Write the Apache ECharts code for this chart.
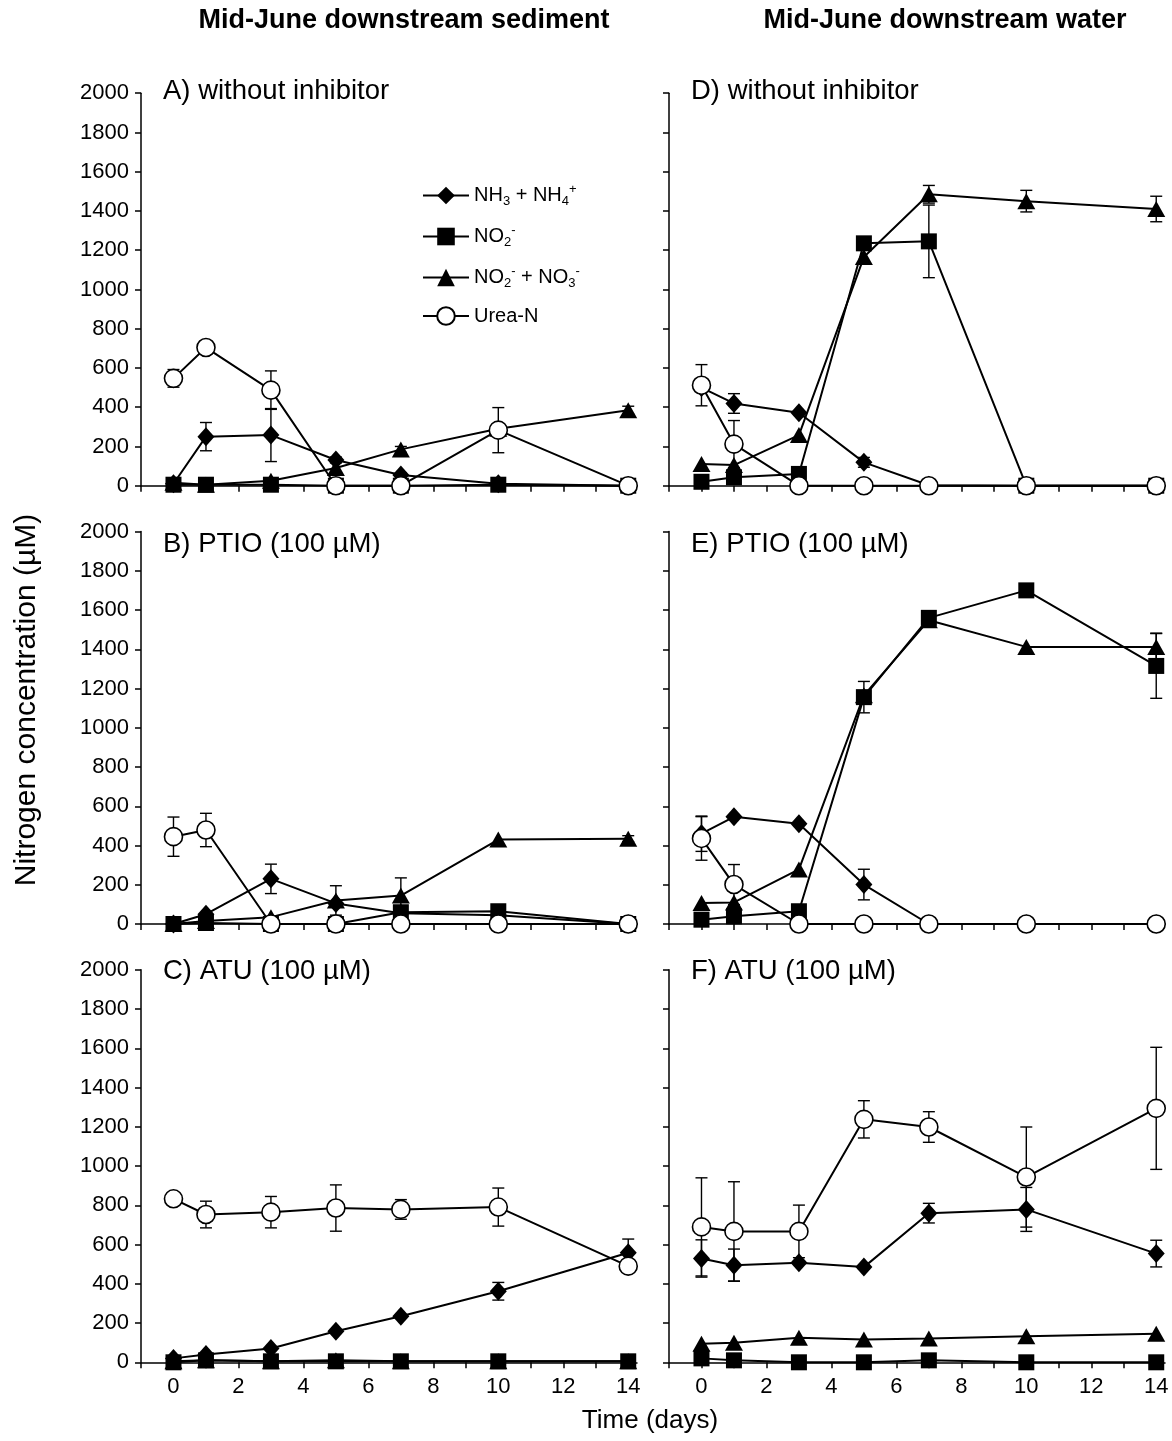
<!DOCTYPE html>
<html><head><meta charset="utf-8">
<script src="https://cdn.jsdelivr.net/npm/echarts@6/dist/echarts.min.js"></script>
<style>html,body{margin:0;padding:0;background:#fff}#c{width:1172px;height:1441px}</style>
</head><body><div id="c"></div>
<script>
// ---------- data ----------
const days = [0, 1, 3, 5, 7, 10, 14];
const xTickValues = [-1, 0, 1, 2, 3, 4, 5, 6, 7, 8, 9, 10, 11, 12, 13, 14];
const xLabelValues = [0, 2, 4, 6, 8, 10, 12, 14];
const columnTitles = ['Mid-June downstream sediment', 'Mid-June downstream water'];
const panelTitles = ['A) without inhibitor', 'B) PTIO (100 µM)', 'C) ATU (100 µM)',
                     'D) without inhibitor', 'E) PTIO (100 µM)', 'F) ATU (100 µM)'];
const yAxisName = 'Nitrogen concentration (µM)';
const xAxisName = 'Time (days)';
const seriesNames = ['nh', 'no2', 'nox', 'urea'];

// A) sediment, without inhibitor
const A_nh = [10, 250, 258, 131, 55, 10, 0];      const A_nh_err = [0, 72, 135, 15, 10, 0, 0];
const A_no2 = [5, 5, 5, 0, 0, 5, 0];              const A_no2_err = [0, 0, 0, 0, 0, 0, 0];
const A_nox = [15, 5, 25, 90, 185, 290, 385];     const A_nox_err = [0, 0, 0, 0, 15, 0, 20];
const A_urea = [547, 704, 487, 0, 0, 283, 0];     const A_urea_err = [45, 15, 98, 0, 0, 115, 0];
// B) sediment, PTIO
const B_nh = [0, 50, 230, 105, 55, 45, 0];        const B_nh_err = [0, 0, 75, 0, 0, 0, 0];
const B_no2 = [0, 5, 0, 0, 60, 65, 0];            const B_no2_err = [0, 0, 0, 0, 0, 0, 0];
const B_nox = [0, 15, 35, 120, 145, 430, 435];    const B_nox_err = [0, 0, 0, 75, 90, 0, 15];
const B_urea = [445, 479, 0, 0, 0, 0, 0];         const B_urea_err = [100, 85, 0, 0, 0, 0, 0];
// C) sediment, ATU
const C_nh = [20, 40, 70, 158, 235, 362, 558];    const C_nh_err = [0, 0, 0, 0, 0, 45, 70];
const C_no2 = [0, 10, 5, 5, 5, 5, 5];             const C_no2_err = [0, 0, 0, 0, 0, 0, 0];
const C_nox = [5, 10, 5, 10, 5, 5, 5];            const C_nox_err = [0, 0, 0, 0, 0, 0, 0];
const C_urea = [833, 753, 765, 786, 779, 791, 490]; const C_urea_err = [30, 68, 80, 118, 50, 97, 0];
// D) water, without inhibitor
const D_nh = [500, 419, 372, 119, 2, 0, 0];       const D_nh_err = [0, 50, 0, 25, 0, 0, 0];
const D_no2 = [20, 43, 60, 1235, 1245, 0, 0];     const D_no2_err = [0, 0, 0, 0, 185, 0, 0];
const D_nox = [110, 105, 258, 1165, 1485, 1450, 1410]; const D_nox_err = [0, 0, 0, 0, 45, 55, 65];
const D_urea = [512, 212, 0, 0, 0, 0, 0];         const D_urea_err = [105, 120, 0, 0, 0, 0, 0];
// E) water, PTIO
const E_nh = [460, 546, 511, 201, 0, 0, 0];       const E_nh_err = [90, 0, 0, 78, 0, 0, 0];
const E_no2 = [22, 39, 65, 1156, 1560, 1700, 1315]; const E_no2_err = [0, 0, 0, 80, 0, 0, 165];
const E_nox = [107, 110, 278, 1165, 1548, 1412, 1412]; const E_nox_err = [0, 0, 0, 0, 0, 0, 70];
const E_urea = [436, 201, 0, 0, 0, 0, 0];         const E_urea_err = [111, 102, 0, 0, 0, 0, 0];
// F) water, ATU
const F_nh = [529, 495, 507, 485, 760, 779, 554]; const F_nh_err = [95, 82, 0, 10, 50, 112, 68];
const F_no2 = [20, 10, 0, 0, 10, 0, 0];           const F_no2_err = [0, 0, 0, 0, 0, 0, 0];
const F_nox = [95, 100, 125, 116, 121, 133, 145]; const F_nox_err = [0, 0, 0, 0, 0, 0, 0];
const F_urea = [690, 667, 667, 1238, 1199, 944, 1294]; const F_urea_err = [250, 253, 134, 95, 78, 255, 311];

const panels = [
  {nh: A_nh, nhE: A_nh_err, no2: A_no2, no2E: A_no2_err, nox: A_nox, noxE: A_nox_err, urea: A_urea, ureaE: A_urea_err},
  {nh: B_nh, nhE: B_nh_err, no2: B_no2, no2E: B_no2_err, nox: B_nox, noxE: B_nox_err, urea: B_urea, ureaE: B_urea_err},
  {nh: C_nh, nhE: C_nh_err, no2: C_no2, no2E: C_no2_err, nox: C_nox, noxE: C_nox_err, urea: C_urea, ureaE: C_urea_err},
  {nh: D_nh, nhE: D_nh_err, no2: D_no2, no2E: D_no2_err, nox: D_nox, noxE: D_nox_err, urea: D_urea, ureaE: D_urea_err},
  {nh: E_nh, nhE: E_nh_err, no2: E_no2, no2E: E_no2_err, nox: E_nox, noxE: E_nox_err, urea: E_urea, ureaE: E_urea_err},
  {nh: F_nh, nhE: F_nh_err, no2: F_no2, no2E: F_no2_err, nox: F_nox, noxE: F_nox_err, urea: F_urea, ureaE: F_urea_err}
];

// ---------- layout ----------
const FONT = 'Liberation Sans, Arial, sans-serif';
const colLeft = [141, 669];
const rowTop = [93.2, 531.5, 969.8];
const gridW = 496, gridH = 392.5;
const titleY = [91, 544, 971];

const grids = [], xAxes = [], yAxes = [], series = [], graphics = [];

const symbolDefs = {
  nh:   {symbol: 'diamond', size: [17, 19], fill: '#000'},
  no2:  {symbol: 'rect', size: 16, fill: '#000'},
  nox:  {symbol: 'triangle', size: [18, 16], fill: '#000'},
  urea: {symbol: 'circle', size: 18, fill: '#fff'}
};

panels.forEach((p, i) => {
  const col = i < 3 ? 0 : 1, row = i % 3;
  grids.push({left: colLeft[col], top: rowTop[row], width: gridW, height: gridH, outerBoundsMode: 'none'});
  xAxes.push({
    type: 'value', gridIndex: i, min: -1, max: 14.27,
    axisLine: {show: true, onZero: false, lineStyle: {color: '#000', width: 1.5}},
    axisTick: {show: true, inside: false, length: 6, customValues: xTickValues, lineStyle: {color: '#000', width: 1.5}},
    axisLabel: {show: row === 2, customValues: xLabelValues, margin: 14, color: '#000', fontSize: 22, fontFamily: FONT,
                formatter: v => String(v)},
    splitLine: {show: false}
  });
  yAxes.push({
    type: 'value', gridIndex: i, min: 0, max: 2000, interval: 200,
    axisLine: {show: true, onZero: false, lineStyle: {color: '#000', width: 1.5}},
    axisTick: {show: true, inside: false, length: 6, lineStyle: {color: '#000', width: 1.5}},
    axisLabel: {show: col === 0, margin: 12, color: '#000', fontSize: 22, fontFamily: FONT,
                formatter: v => String(v)},
    splitLine: {show: false}
  });

  // error bars
  const errData = [];
  ['nox', 'nh', 'no2', 'urea'].forEach(k => {
    p[k].forEach((v, j) => {
      const e = p[k + 'E'][j];
      if (e > 0) errData.push([days[j], v - e, v + e]);
    });
  });
  series.push({
    type: 'custom', xAxisIndex: i, yAxisIndex: i, silent: true, z: 1,
    data: errData,
    renderItem: (params, api) => {
      const x = api.value(0), lo = api.value(1), hi = api.value(2);
      const a = api.coord([x, hi]), b = api.coord([x, lo]);
      const w = 6, st = {stroke: '#000', lineWidth: 1.4};
      return {type: 'group', children: [
        {type: 'line', shape: {x1: a[0], y1: a[1], x2: b[0], y2: b[1]}, style: st},
        {type: 'line', shape: {x1: a[0] - w, y1: a[1], x2: a[0] + w, y2: a[1]}, style: st},
        {type: 'line', shape: {x1: b[0] - w, y1: b[1], x2: b[0] + w, y2: b[1]}, style: st}
      ]};
    }
  });

  ['nox', 'nh', 'no2', 'urea'].forEach(k => {
    const d = symbolDefs[k];
    series.push({
      name: k, type: 'line', xAxisIndex: i, yAxisIndex: i, z: 2,
      data: p[k].map((v, j) => [days[j], v]),
      symbol: d.symbol, symbolSize: d.size, showAllSymbol: true,
      lineStyle: {color: '#000', width: 2},
      itemStyle: {color: d.fill, borderColor: '#000', borderWidth: k === 'urea' ? 1.6 : 0, opacity: 1},
      emphasis: {disabled: true},
      clip: false
    });
  });

  graphics.push({
    type: 'text', x: colLeft[col] + 22, y: titleY[row],
    style: {text: panelTitles[i], font: '27.5px ' + FONT, fill: '#000', textVerticalAlign: 'middle', textAlign: 'left'}
  });
});

graphics.push({type: 'text', x: 404, y: 21, style: {text: columnTitles[0], font: 'bold 27px ' + FONT, fill: '#000', textAlign: 'center', textVerticalAlign: 'middle'}});
graphics.push({type: 'text', x: 945, y: 21, style: {text: columnTitles[1], font: 'bold 27px ' + FONT, fill: '#000', textAlign: 'center', textVerticalAlign: 'middle'}});
graphics.push({type: 'text', x: 650, y: 1421, style: {text: xAxisName, font: '26px ' + FONT, fill: '#000', textAlign: 'center', textVerticalAlign: 'middle'}});
graphics.push({type: 'text', x: 27, y: 700, rotation: Math.PI / 2, style: {text: yAxisName, font: '30px ' + FONT, fill: '#000', textAlign: 'center', textVerticalAlign: 'middle'}});

// ---------- legend (inside panel A) ----------
const legendLabels = {
  nh: '{b|NH}{sub|3}{b| + NH}{sub|4}{sup|+}',
  no2: '{b|NO}{sub|2}{sup|-}',
  nox: '{b|NO}{sub|2}{sup|-}{b| + NO}{sub|3}{sup|-}',
  urea: '{b|Urea-N}'
};
const legendRows = [195, 236, 277, 318];
const legends = seriesNames.map((n, k) => ({
  data: [n], orient: 'vertical', left: 422, top: legendRows[k] - 12, padding: 0,
  itemWidth: 46, itemHeight: 22, selectedMode: false,
  formatter: name => legendLabels[name],
  textStyle: {
    color: '#000', fontFamily: FONT, fontSize: 20,
    rich: {
      b: {fontSize: 20, fontFamily: FONT, color: '#000'},
      sub: {fontSize: 13, fontFamily: FONT, color: '#000', padding: [12, 0, 0, 0]},
      sup: {fontSize: 13, fontFamily: FONT, color: '#000', padding: [0, 0, 12, 0]}
    }
  }
}));

const chart = echarts.init(document.getElementById('c'), null, {renderer: 'canvas'});
chart.setOption({
  animation: false,
  backgroundColor: '#fff',
  grid: grids, xAxis: xAxes, yAxis: yAxes, series: series,
  legend: legends,
  graphic: graphics
});
</script>
</body></html>
